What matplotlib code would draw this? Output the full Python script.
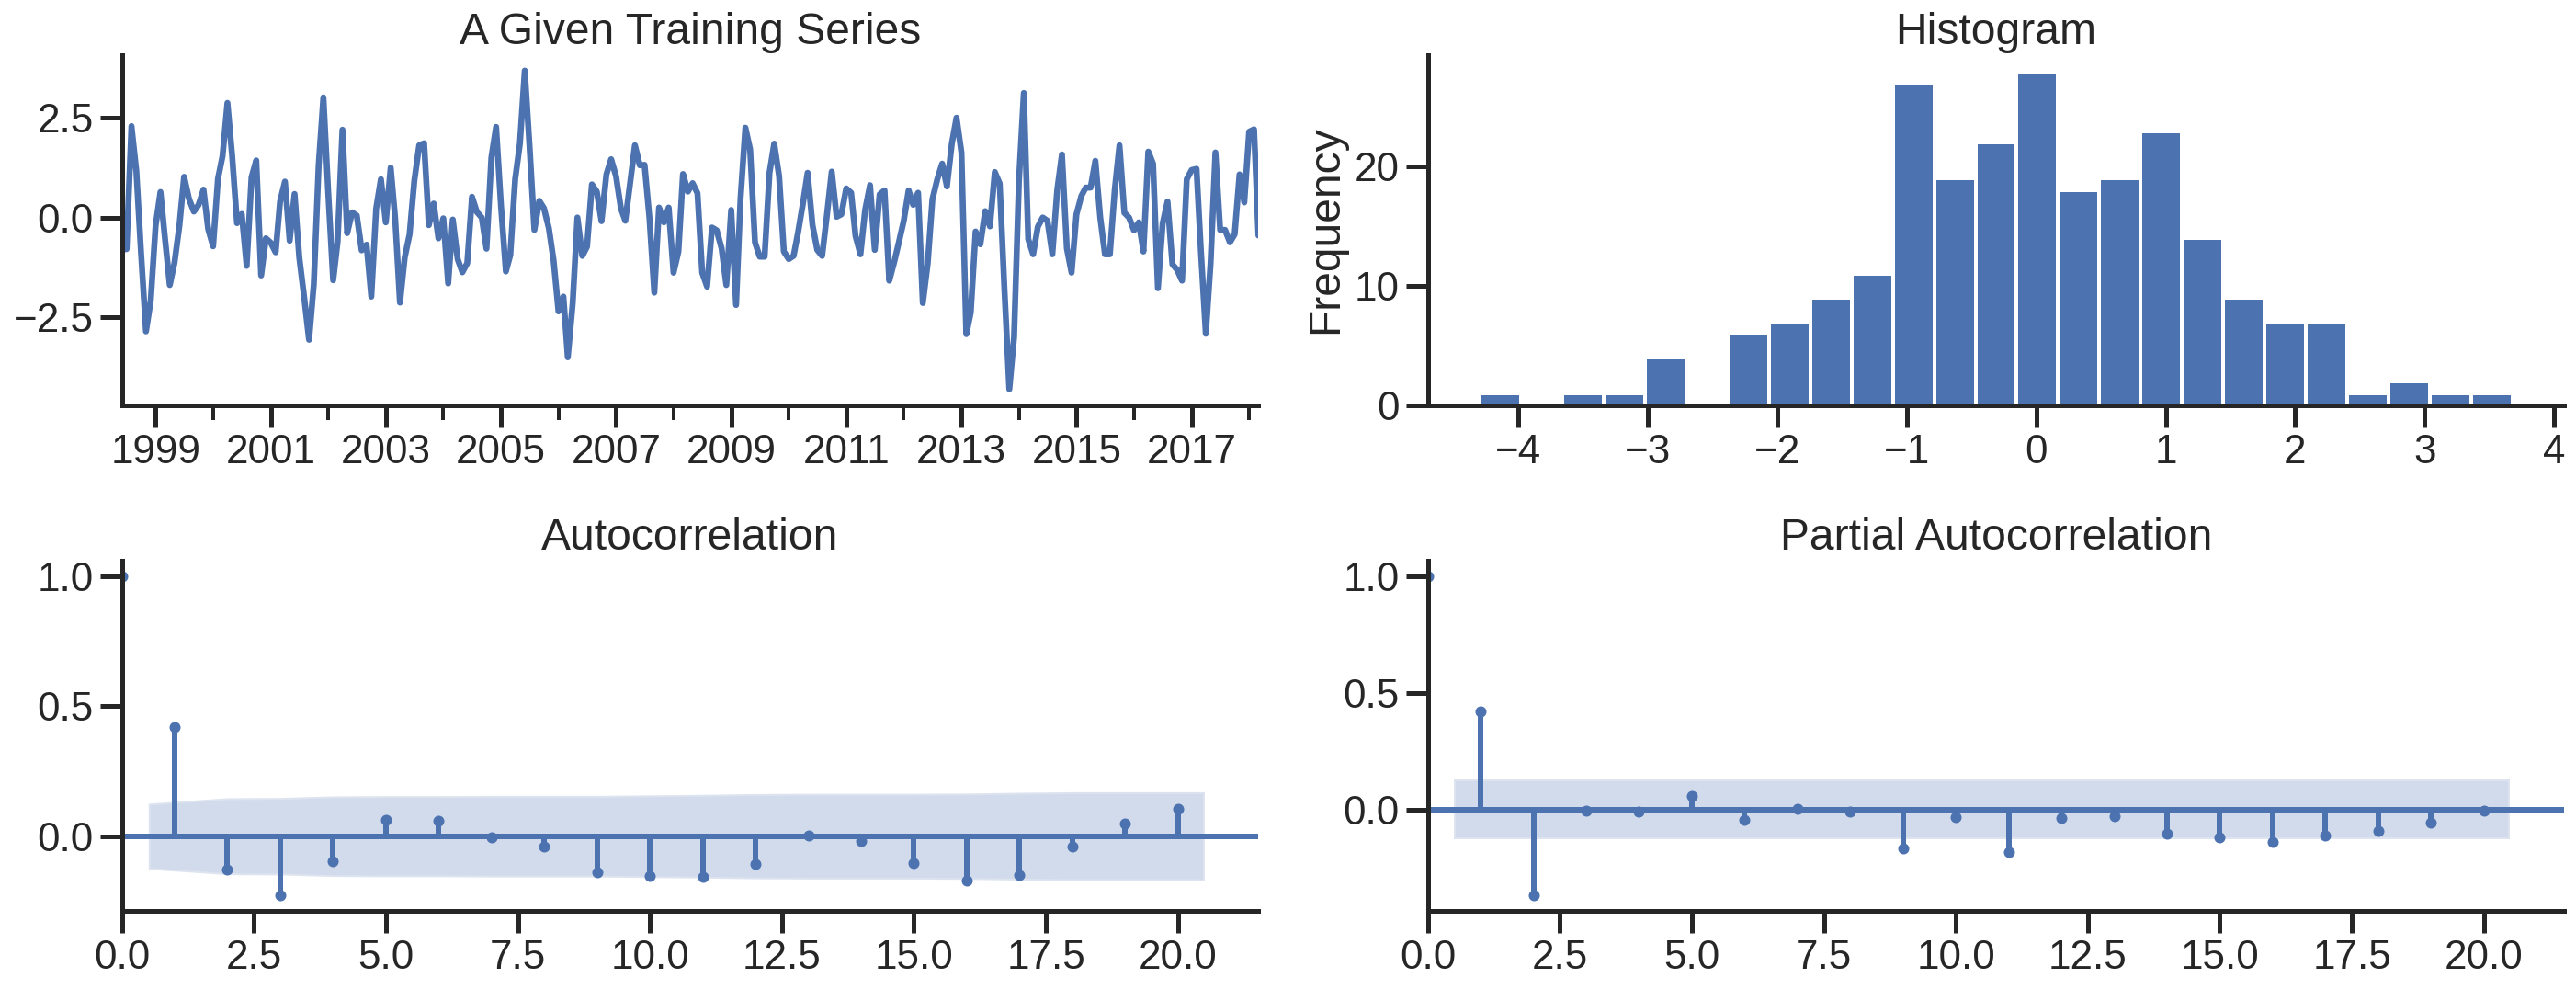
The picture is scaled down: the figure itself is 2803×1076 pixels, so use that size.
import numpy as np
import pandas as pd
import matplotlib
matplotlib.use('Agg')
import matplotlib.pyplot as plt
import matplotlib.dates as mdates
import seaborn as sns

start_month = '1998-06-01'
series_values = [
    -0.80, -0.79, 2.29, 1.16, -0.90, -2.85, -2.09, -0.21, 0.64, -0.50,
    -1.69, -1.13, -0.21, 1.02, 0.47, 0.15, 0.32, 0.70, -0.29, -0.72,
    0.97, 1.54, 2.87, 1.54, -0.14, 0.09, -1.21, 1.01, 1.43, -1.45,
    -0.52, -0.63, -0.87, 0.40, 0.90, -0.58, 0.59, -1.00, -2.00, -3.06,
    -1.67, 1.31, 3.01, 0.60, -1.57, -0.61, 2.20, -0.39, 0.13, 0.05,
    -0.82, -0.68, -1.98, 0.23, 0.96, -0.12, 1.25, 0.00, -2.13, -1.00,
    -0.42, 0.92, 1.81, 1.86, -0.19, 0.35, -0.52, -0.02, -1.65, -0.05,
    -1.04, -1.37, -1.14, 0.52, 0.14, 0.00, -0.78, 1.50, 2.27, 0.30,
    -1.35, -0.94, 0.96, 1.85, 3.68, 1.80, -0.31, 0.42, 0.23, -0.27,
    -1.08, -2.35, -1.98, -3.50, -2.15, 0.00, -0.96, -0.73, 0.83, 0.65,
    -0.09, 1.08, 1.46, 1.04, 0.23, -0.08, 0.88, 1.81, 1.31, 1.32,
    0.00, -1.88, 0.25, -0.12, 0.25, -1.38, -0.85, 1.09, 0.65, 0.86,
    0.61, -1.38, -1.73, -0.25, -0.32, -0.77, -1.69, 0.19, -2.19, 0.46,
    2.25, 1.71, -0.62, -0.98, -0.98, 1.12, 1.85, 1.04, -0.85, -1.04,
    -0.96, -0.38, 0.35, 1.12, -0.19, -0.81, -0.96, 0.08, 1.15, 0.02,
    0.08, 0.73, 0.62, -0.46, -0.92, 0.19, 0.81, -0.81, 0.58, 0.68,
    -1.58, -1.12, -0.62, -0.08, 0.68, 0.32, 0.62, -2.14, -1.15, 0.46,
    0.96, 1.35, 0.78, 1.85, 2.50, 1.63, -2.92, -2.38, -0.35, -0.67,
    0.16, -0.22, 1.14, 0.85, -1.80, -4.30, -3.00, 0.92, 3.12, -0.54,
    -0.92, -0.23, 0.00, -0.08, -0.92, 0.69, 1.58, -0.77, -1.38, 0.08,
    0.54, 0.75, 0.75, 1.42, 0.00, -0.92, -0.92, 0.69, 1.81, 0.12,
    0.00, -0.32, -0.12, -0.85, 1.65, 1.35, -1.77, -0.15, 0.40, -1.17,
    -1.31, -1.58, 0.96, 1.19, 1.22, -0.85, -2.91, -1.15, 1.63, -0.31,
    -0.31, -0.62, -0.42, 1.08, 0.38, 2.15, 2.21, -0.45,
]

# Histograma: 25 intervalos entre el minimo y el maximo
hist_lo, hist_hi = -4.30, 3.68
hist_counts = [1, 0, 1, 1, 4, 0, 6, 7, 9, 11, 27, 19, 22, 28, 18, 19,
               23, 14, 9, 7, 7, 1, 2, 1, 1]

# Autocorrelacion (lags 0..20) y banda de confianza (lags 1..20)
acf_values = [1.0, 0.419, -0.127, -0.226, -0.095, 0.062, 0.059, -0.006,
              -0.038, -0.140, -0.152, -0.158, -0.107, 0.002, -0.018,
              -0.105, -0.170, -0.149, -0.038, 0.048, 0.105]
acf_band = [0.127, 0.148, 0.149, 0.155, 0.156, 0.156, 0.157, 0.157,
            0.157, 0.159, 0.161, 0.164, 0.165, 0.165, 0.165, 0.166,
            0.169, 0.171, 0.171, 0.171]

# Autocorrelacion parcial
pacf_values = [1.0, 0.421, -0.367, -0.005, -0.009, 0.057, -0.046, 0.004,
               -0.009, -0.168, -0.033, -0.181, -0.038, -0.029, -0.105,
               -0.119, -0.139, -0.113, -0.093, -0.058, -0.005]
pacf_band = [0.127] * 20

sns.set_theme(context='poster', style='ticks')
plt.rcParams['font.family'] = ['Liberation Sans', 'DejaVu Sans']


def corr_plot(ax, values, band, title):
    lags = np.arange(len(values))
    ax.vlines(lags, [0], values, color='C0')
    ax.axhline(0, color='C0')
    ax.plot(lags, values, marker='o', markersize=5, linestyle='None', color='C0')
    band = np.array(band)
    band_x = lags[1:].astype(float)
    band_x[0] -= 0.5
    band_x[-1] += 0.5
    # el borde blanco viene del estilo de seaborn
    ax.fill_between(band_x, -band, band, alpha=0.25, facecolor='C0')
    ax.margins(0.05)
    ax.set_xlim(left=0)
    ax.set_title(title)


fig, axes = plt.subplots(2, 2, figsize=(2803 / 144, 1076 / 144))
fig.subplots_adjust(left=0.0473, right=0.9955, bottom=0.079, top=0.9447,
                    wspace=0.149, hspace=0.443)

# Serie temporal
dates = pd.date_range(start_month, periods=len(series_values), freq='MS')
ax = axes[0, 0]
ax.plot(dates, series_values, color='C0', linewidth=3.3)
ax.set_xlim(dates[0], dates[-1])
ax.set_xticks([pd.Timestamp(f'{y}-01-01') for y in range(1999, 2018, 2)])
ax.xaxis.set_major_formatter(mdates.DateFormatter('%Y'))
ax.xaxis.set_minor_locator(mdates.YearLocator(1))
ax.set_title('A Given Training Series')

# Histograma
ax = axes[0, 1]
edges = np.linspace(hist_lo, hist_hi, len(hist_counts) + 1)
ax.hist(edges[:-1], bins=edges, weights=hist_counts, color='C0')
ax.set_ylabel('Frequency')
ax.set_title('Histogram')

corr_plot(axes[1, 0], acf_values, acf_band, 'Autocorrelation')
corr_plot(axes[1, 1], pacf_values, pacf_band, 'Partial Autocorrelation')

sns.despine(fig=fig)
fig.savefig('out.png', dpi=144)
plt.close(fig)
